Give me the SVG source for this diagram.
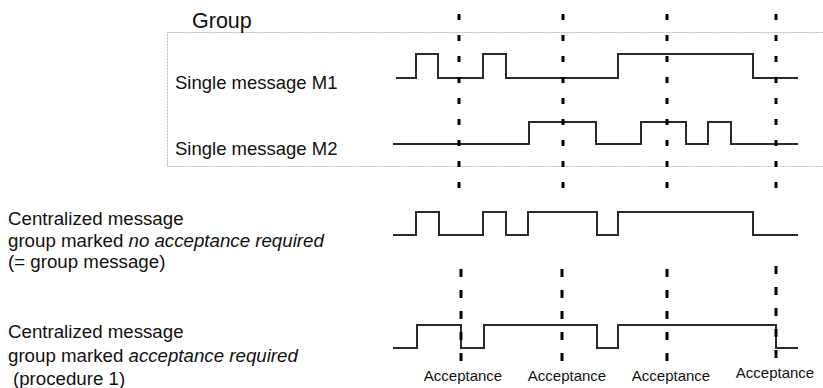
<svg xmlns="http://www.w3.org/2000/svg" width="823" height="388" viewBox="0 0 823 388">
<style>
text{font-family:"Liberation Sans",Arial,sans-serif;fill:#111}
.lbl{font-size:18.7px}
.acc{font-size:15px;text-anchor:middle}
.sig{fill:none;stroke:#2a2a2a;stroke-width:2}
.tick{stroke:#000;stroke-width:3;stroke-dasharray:6 15}
.box{fill:none;stroke:#b8b8b8;stroke-width:1;stroke-dasharray:2 1}
</style>
<rect width="823" height="388" fill="#fff"/>
<g id="group-box">
<rect class="box" x="167.5" y="32.5" width="660" height="134"/>
<text x="192" y="28" style="font-size:21.5px">Group</text>
</g>
<g id="m1">
<text class="lbl" x="175" y="89" style="font-size:18.5px">Single message M1</text>
<path class="sig" d="M396,78 H416 V54 H438 V78 H483 V54 H506 V78 H618 V54 H753 V78 H798"/>
</g>
<g id="m2">
<text class="lbl" x="175" y="155" style="font-size:18.5px">Single message M2</text>
<path class="sig" d="M393,144 H529 V122 H596 V144 H641 V122 H686 V144 H708 V122 H731 V144 H798"/>
</g>
<g id="group-message">
<text class="lbl" x="8" y="225">Centralized message</text>
<text class="lbl" x="8" y="247">group marked <tspan font-style="italic">no acceptance required</tspan></text>
<text class="lbl" x="8" y="268">(= group message)</text>
<path class="sig" d="M393,235 H416 V212 H439 V235 H483 V212 H506 V235 H528 V212 H597 V235 H618 V212 H753 V235 H798"/>
</g>
<g id="acceptance-message">
<text class="lbl" x="8" y="338">Centralized message</text>
<text class="lbl" x="8" y="362">group marked <tspan font-style="italic">acceptance required</tspan></text>
<text class="lbl" x="13" y="385">(procedure 1)</text>
<path class="sig" d="M393,348 H417 V325 H461 V348 H484 V325 H597 V348 H618 V325 H776 V348 H798"/>
</g>
<g id="connectors">
<line class="tick" x1="459" y1="14" x2="459" y2="190"/>
<line class="tick" x1="563" y1="14" x2="563" y2="190"/>
<line class="tick" x1="667" y1="14" x2="667" y2="190"/>
<line class="tick" x1="776" y1="14" x2="776" y2="190"/>
<line class="tick" x1="461" y1="269" x2="461" y2="362" style="stroke-dasharray:8 13"/>
<line class="tick" x1="562" y1="269" x2="562" y2="362" style="stroke-dasharray:8 13"/>
<line class="tick" x1="667" y1="269" x2="667" y2="362" style="stroke-dasharray:8 13"/>
<line class="tick" x1="776" y1="266" x2="776" y2="360" style="stroke-dasharray:8 13"/>
</g>
<g id="acceptance-labels">
<text class="acc" x="463" y="381">Acceptance</text>
<text class="acc" x="567" y="381">Acceptance</text>
<text class="acc" x="671" y="381">Acceptance</text>
<text class="acc" x="775" y="378">Acceptance</text>
</g>
</svg>
